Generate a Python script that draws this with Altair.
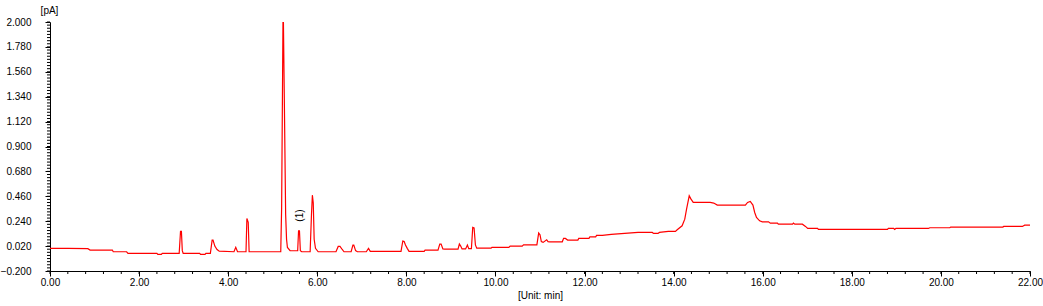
import altair as alt
import pandas as pd

# Retention time (min) and detector signal (pA)
times = [
    0.00, 0.40, 0.85, 0.90, 1.40, 1.42, 1.72, 1.75, 2.40, 2.42, 2.50, 2.52, 2.90,
    2.93, 2.95, 2.97, 2.99, 3.36, 3.38, 3.48, 3.50, 3.60, 3.64, 3.66, 3.70, 3.75,
    3.80, 4.13, 4.17, 4.21, 4.40, 4.42, 4.45, 4.47, 5.18, 5.20, 5.23, 5.24, 5.26,
    5.29, 5.31, 5.33, 5.39, 5.56, 5.58, 5.60, 5.62, 5.65, 5.84, 5.87, 5.89, 5.91,
    5.93, 5.96, 6.02, 6.42, 6.47, 6.51, 6.56, 6.60, 6.76, 6.80, 6.82, 6.86, 6.90,
    7.10, 7.15, 7.19, 7.88, 7.92, 7.95, 7.98, 8.02, 8.06, 8.40, 8.42, 8.71, 8.75,
    8.78, 8.82, 8.86, 9.16, 9.19, 9.22, 9.25, 9.33, 9.37, 9.40, 9.46, 9.49, 9.52,
    9.55, 9.58, 9.90, 9.92, 10.30, 10.33, 10.60, 10.63, 10.93, 10.97, 11.00,
    11.03, 11.07, 11.15, 11.18, 11.22, 11.50, 11.53, 11.57, 11.62, 11.85, 11.87,
    12.10, 12.12, 12.25, 12.27, 12.40, 12.60, 12.90, 13.20, 13.52, 13.55, 13.65,
    13.68, 13.88, 14.04, 14.08, 14.19, 14.25, 14.29, 14.35, 14.39, 14.44, 14.82,
    14.90, 14.98, 15.61, 15.66, 15.72, 15.78, 15.82, 15.86, 15.93, 15.99, 16.13,
    16.17, 16.33, 16.35, 16.67, 16.69, 16.72, 16.89, 16.96, 17.01, 17.23, 17.25,
    18.80, 18.82, 18.94, 18.96, 18.99, 19.72, 19.75, 20.20, 20.22, 21.39, 21.41,
    21.83, 21.88, 22.00,
]
signal = [
    0.000, 0.000, -0.003, -0.015, -0.015, -0.030, -0.030, -0.044, -0.044, -0.053,
    -0.053, -0.044, -0.044, 0.150, 0.150, -0.020, -0.044, -0.044, -0.053, -0.053,
    -0.044, -0.044, 0.073, 0.073, 0.020, -0.010, -0.025, -0.030, 0.009, -0.030,
    -0.030, 0.264, 0.230, -0.030, -0.030, 0.360, 2.000, 2.000, 1.330, 0.300,
    0.082, 0.008, -0.021, -0.021, 0.155, 0.155, -0.020, -0.030, -0.030, 0.300,
    0.470, 0.400, 0.080, 0.000, -0.030, -0.030, 0.017, 0.017, -0.010, -0.030,
    -0.030, 0.029, 0.029, -0.020, -0.030, -0.030, 0.000, -0.027, -0.027, 0.065,
    0.060, 0.030, 0.000, -0.027, -0.027, -0.016, -0.016, 0.038, 0.038, -0.005,
    -0.007, -0.007, 0.038, 0.020, -0.005, -0.005, 0.029, -0.003, -0.003, 0.185,
    0.180, 0.030, 0.002, 0.002, 0.008, 0.008, 0.020, 0.020, 0.031, 0.031, 0.135,
    0.120, 0.060, 0.053, 0.076, 0.060, 0.058, 0.058, 0.088, 0.088, 0.073, 0.073,
    0.088, 0.088, 0.102, 0.102, 0.114, 0.114, 0.123, 0.132, 0.141, 0.141, 0.132,
    0.132, 0.141, 0.150, 0.150, 0.164, 0.199, 0.258, 0.347, 0.464, 0.435, 0.406,
    0.406, 0.400, 0.382, 0.382, 0.406, 0.415, 0.382, 0.317, 0.273, 0.243, 0.234,
    0.234, 0.223, 0.223, 0.214, 0.214, 0.223, 0.214, 0.214, 0.194, 0.176, 0.176,
    0.167, 0.167, 0.176, 0.176, 0.167, 0.176, 0.176, 0.182, 0.182, 0.188, 0.188,
    0.194, 0.194, 0.205, 0.205,
]

# Axis ticks
x_major = [0, 2, 4, 6, 8, 10, 12, 14, 16, 18, 20, 22]
y_major = [-0.2, 0.02, 0.24, 0.46, 0.68, 0.9, 1.12, 1.34, 1.56, 1.78, 2.0]
x_minor = [round(i * 0.4, 4) for i in range(56)]
y_minor = [round(-0.2 + i * 0.0275, 5) for i in range(81)]

# Peak annotation
peak_labels = ["(1)"]
peak_times = [5.61]
peak_values = [0.29]

W, H = 980, 249
FONT = "Liberation Sans"

df = pd.DataFrame({"t": times, "v": signal})
xscale = alt.Scale(domain=[0, 22], nice=False, zero=False)
yscale = alt.Scale(domain=[-0.2, 2.0], nice=False, zero=False)

xaxis = alt.Axis(values=x_major, format=".2f", title="[Unit: min]",
                 tickSize=5, labelPadding=1, titlePadding=3, labelFlush=False)
yaxis = alt.Axis(values=y_major, format=".3f", title="[pA]",
                 tickSize=5, labelPadding=14, titleAngle=0,
                 titleX=-1, titleY=-12, titleAlign="center",
                 titleBaseline="middle", labelFlush=False)

line = alt.Chart(df).mark_line(color="#ff0000", strokeWidth=1.2, clip=True).encode(
    x=alt.X("t:Q", scale=xscale, axis=xaxis),
    y=alt.Y("v:Q", scale=yscale, axis=yaxis),
)

xminor = alt.Chart(pd.DataFrame({"t": x_minor})).mark_rule(color="black", strokeWidth=1).encode(
    x=alt.X("t:Q", scale=xscale, axis=xaxis),
    y=alt.value(H),
    y2=alt.value(H + 3),
)
yminor = alt.Chart(pd.DataFrame({"v": y_minor})).mark_rule(color="black", strokeWidth=1).encode(
    y=alt.Y("v:Q", scale=yscale, axis=yaxis),
    x=alt.value(0),
    x2=alt.value(-3),
)

ann = alt.Chart(pd.DataFrame({"t": peak_times, "v": peak_values, "lab": peak_labels})).mark_text(
    angle=270, fontSize=10, font=FONT, color="black"
).encode(
    x=alt.X("t:Q", scale=xscale, axis=xaxis),
    y=alt.Y("v:Q", scale=yscale, axis=yaxis),
    text="lab:N",
)

chart = alt.layer(line, xminor, yminor, ann).properties(
    width=W, height=H,
    autosize=alt.AutoSizeParams(type="none"),
    padding={"left": 50, "top": 22, "right": 13, "bottom": 35},
).configure_view(stroke=None).configure_axis(
    domainColor="black", tickColor="black", labelColor="black", titleColor="black",
    labelFont=FONT, titleFont=FONT, labelFontSize=10, titleFontSize=10,
    titleFontWeight="normal", grid=False, domainWidth=1, tickWidth=1,
)

chart.save("out.html", embed_options={"renderer": "svg", "actions": False})
